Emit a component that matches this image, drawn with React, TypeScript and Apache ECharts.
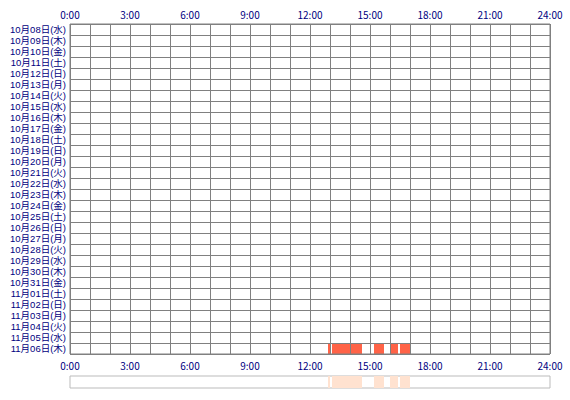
import { useEffect, useRef } from "react";
import * as echarts from "echarts";

const dateLabels = [
  "10月08日(水)", "10月09日(木)", "10月10日(金)", "10月11日(土)", "10月12日(日)",
  "10月13日(月)", "10月14日(火)", "10月15日(水)", "10月16日(木)", "10月17日(金)",
  "10月18日(土)", "10月19日(日)", "10月20日(月)", "10月21日(火)", "10月22日(水)",
  "10月23日(木)", "10月24日(金)", "10月25日(土)", "10月26日(日)", "10月27日(月)",
  "10月28日(火)", "10月29日(水)", "10月30日(木)", "10月31日(金)", "11月01日(土)",
  "11月02日(日)", "11月03日(月)", "11月04日(火)", "11月05日(水)", "11月06日(木)",
];

// active periods (hours of day), all on the last day
const activeDays = ["11月06日(木)", "11月06日(木)", "11月06日(木)", "11月06日(木)", "11月06日(木)"];
const activeStarts = [12.9, 13.1, 15.2, 16.0, 16.5];
const activeEnds = [13.0, 14.6, 15.7, 16.4, 17.0];

const hourTicks = [0, 3, 6, 9, 12, 15, 18, 21, 24];

const LINE = "#808080";
const TEXT = "#000080";
const FONT = "'Noto Sans CJK JP', sans-serif";
const ROW_FONT = "'Liberation Sans', 'Noto Sans CJK JP', sans-serif";

function barItem(fill: string) {
  return (_params: any, api: any) => {
    const row = api.value(0);
    const p0 = api.coord([api.value(1), row]);
    const p1 = api.coord([api.value(2), row]);
    const h = api.size([0, 1])[1];
    return {
      type: "rect",
      shape: { x: p0[0], y: p0[1] - h / 2, width: p1[0] - p0[0], height: h },
      style: { fill },
    };
  };
}

function buildOptions(): echarts.EChartsCoreOption {
  const rows = activeStarts.map((s, i) => [dateLabels.indexOf(activeDays[i]), s, activeEnds[i]]);
  const stripRows = activeStarts.map((s, i) => [0, s, activeEnds[i]]);
  const hourLabel = (v: number) => (hourTicks.includes(v) ? `${v}:00` : "");
  const hourAxis = {
    type: "value",
    min: 0,
    max: 24,
    interval: 1,
    z: 10,
    axisLine: { show: false },
    axisTick: { show: false },
    axisLabel: {
      formatter: hourLabel,
      color: TEXT,
      fontFamily: FONT,
      fontSize: 10,
      showMaxLabel: true,
      showMinLabel: true,
    },
  };
  return {
    animation: false,
    grid: [
      { left: 70, top: 24, width: 480, height: 330, show: true, borderColor: LINE, borderWidth: 1, z: 10 },
      { left: 70, top: 376, width: 480, height: 12, show: true, borderColor: "#bbbbbb", borderWidth: 1 },
    ],
    xAxis: [
      {
        ...hourAxis,
        gridIndex: 0,
        position: "top",
        axisLabel: { ...hourAxis.axisLabel, margin: 5 },
        splitLine: { show: true, lineStyle: { color: LINE, width: 1 } },
      },
      {
        ...hourAxis,
        gridIndex: 0,
        position: "bottom",
        axisLabel: { ...hourAxis.axisLabel, margin: 6 },
        splitLine: { show: false },
      },
      { type: "value", gridIndex: 1, min: 0, max: 24, show: false },
    ],
    yAxis: [
      {
        type: "category",
        gridIndex: 0,
        data: dateLabels,
        inverse: true,
        z: 10,
        axisLine: { show: false },
        axisTick: { show: false },
        axisLabel: {
          color: TEXT,
          fontFamily: ROW_FONT,
          fontSize: 9.5,
          lineHeight: 10,
          margin: 4,
          interval: 0,
        },
        splitLine: { show: true, interval: 0, lineStyle: { color: LINE, width: 1 } },
      },
      { type: "category", gridIndex: 1, data: ["all"], show: false },
    ],
    series: [
      {
        type: "custom",
        xAxisIndex: 0,
        yAxisIndex: 0,
        z: 1,
        renderItem: barItem("#ff6347"),
        encode: { x: [1, 2], y: 0 },
        data: rows,
      },
      {
        type: "custom",
        xAxisIndex: 2,
        yAxisIndex: 1,
        renderItem: barItem("#ffe2d0"),
        encode: { x: [1, 2], y: 0 },
        data: stripRows,
      },
    ],
  };
}

export default function App() {
  const nodeRef = useRef<HTMLDivElement | null>(null);

  useEffect(() => {
    if (!nodeRef.current) return;
    const chart = echarts.init(nodeRef.current, undefined, { renderer: "svg" });
    chart.setOption(buildOptions());
    return () => chart.dispose();
  }, []);

  return (
    <div
      ref={nodeRef}
      style={{ position: "fixed", left: 0, top: 0, width: 570, height: 400, background: "#fff" }}
    />
  );
}
